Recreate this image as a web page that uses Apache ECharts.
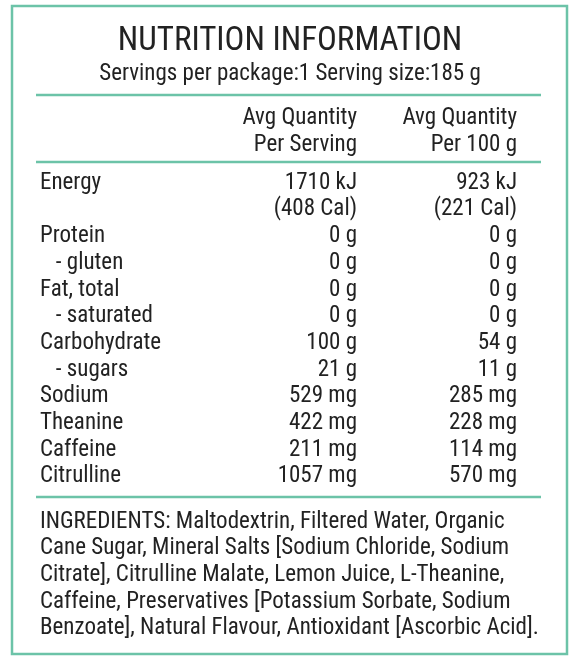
<!DOCTYPE html><html><head><meta charset="utf-8">
<script src="https://cdn.jsdelivr.net/npm/echarts@6/dist/echarts.min.js"></script>
<style>html,body{margin:0;background:#fff}#c{width:580px;height:660px}</style></head><body><div id="c"></div>
<script>
const title = "NUTRITION INFORMATION";
const subtitle = "Servings per package:1 Serving size:185 g";
const headers = [["Avg Quantity","Per Serving"],["Avg Quantity","Per 100 g"]];
const labels = ["Energy","","Protein","   - gluten","Fat, total","   - saturated","Carbohydrate","   - sugars","Sodium","Theanine","Caffeine","Citrulline"];
const perServing = ["1710 kJ","(408 Cal)","0 g","0 g","0 g","0 g","100 g","21 g","529 mg","422 mg","211 mg","1057 mg"];
const per100 = ["923 kJ","(221 Cal)","0 g","0 g","0 g","0 g","54 g","11 g","285 mg","228 mg","114 mg","570 mg"];
const ingredients = ["INGREDIENTS: Maltodextrin, Filtered Water, Organic","Cane Sugar, Mineral Salts [Sodium Chloride, Sodium","Citrate], Citrulline Malate, Lemon Juice, L-Theanine,","Caffeine, Preservatives [Potassium Sorbate, Sodium","Benzoate], Natural Flavour, Antioxidant [Ascorbic Acid]."];
const F = "'Liberation Sans Narrow','Roboto Condensed','Liberation Sans',sans-serif";
const C = "#6cc3a8", T = "#222";
const g = [];
g.push({type:'rect',shape:{x:12,y:6,width:555,height:648},style:{fill:'none',stroke:C,lineWidth:2.5}});
[95,162,497].forEach(y=>g.push({type:'line',shape:{x1:36,y1:y,x2:541,y2:y},style:{stroke:C,lineWidth:2.5}}));
const t=(x,y,s,sz,al)=>g.push({type:'text',x,y,style:{text:s,fontSize:sz,fontFamily:F,fill:T,align:al||'left',verticalAlign:'middle'}});
t(290,42,title,33,'center');
t(290,74,subtitle,23,'center');
headers.forEach((h,i)=>{const x=i?517:357;t(x,118,h[0],23,'right');t(x,145,h[1],23,'right');});
labels.forEach((l,i)=>{const y=183+i*26.7;t(40,y,l,23);t(357,y,perServing[i],23,'right');t(517,y,per100[i],23,'right');});
ingredients.forEach((l,i)=>t(40,522+i*26.6,l,23));
const ch=echarts.init(document.getElementById('c'));
ch.setOption({animation:false,graphic:g});
</script></body></html>
